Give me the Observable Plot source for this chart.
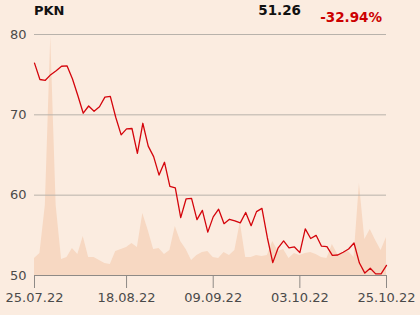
<!DOCTYPE html>
<html><head><meta charset="utf-8">
<script src="https://cdn.jsdelivr.net/npm/d3@7"></script>
<script src="https://cdn.jsdelivr.net/npm/@observablehq/plot@0.6"></script>
<style>
html,body{margin:0;padding:0;background:#fbece0;}
#chart{width:420px;height:315px;position:relative;}
svg{font-family:"DejaVu Sans",sans-serif;}
</style></head><body><div id="chart"></div>
<script>
const dates = [
 "25.07.22","26.07.22","27.07.22","28.07.22","29.07.22",
 "01.08.22","02.08.22","03.08.22","04.08.22","05.08.22",
 "08.08.22","09.08.22","10.08.22","11.08.22","12.08.22",
 "16.08.22","17.08.22","18.08.22","19.08.22",
 "22.08.22","23.08.22","24.08.22","25.08.22","26.08.22",
 "29.08.22","30.08.22","31.08.22","01.09.22","02.09.22",
 "05.09.22","06.09.22","07.09.22","08.09.22","09.09.22",
 "12.09.22","13.09.22","14.09.22","15.09.22","16.09.22",
 "19.09.22","20.09.22","21.09.22","22.09.22","23.09.22",
 "26.09.22","27.09.22","28.09.22","29.09.22","30.09.22",
 "03.10.22","04.10.22","05.10.22","06.10.22","07.10.22",
 "10.10.22","11.10.22","12.10.22","13.10.22","14.10.22",
 "17.10.22","18.10.22","19.10.22","20.10.22","21.10.22",
 "24.10.22","25.10.22"
];
const price = [
 76.44,74.4,74.3,75.0,75.5,76.05,76.1,74.5,72.4,70.2,
 71.1,70.45,71.0,72.2,72.3,69.7,67.5,68.25,68.3,65.2,
 68.95,66.1,64.8,62.5,64.1,61.1,60.9,57.2,59.55,59.6,
 56.95,58.1,55.4,57.3,58.25,56.45,57.0,56.8,56.55,57.85,
 56.2,57.95,58.35,54.7,51.6,53.45,54.3,53.45,53.55,52.85,
 55.8,54.6,55.0,53.65,53.6,52.5,52.55,52.9,53.3,54.05,
 51.55,50.3,50.9,50.2,50.2,51.26
];
const volume = [
 0.85,1.10,3.50,11.95,3.50,0.80,0.90,1.35,1.05,1.95,
 0.90,0.90,0.75,0.60,0.55,1.20,1.30,1.40,1.60,1.40,
 3.10,2.25,1.30,1.35,1.05,1.25,2.45,1.70,1.30,0.75,
 1.00,1.15,1.20,0.90,0.85,1.15,1.00,1.25,2.65,0.90,
 0.90,1.00,0.95,1.00,1.70,1.20,1.30,0.85,1.10,1.00,
 1.10,1.15,1.05,0.90,0.85,1.55,1.05,1.15,1.20,0.90,
 4.60,1.80,2.30,1.75,1.25,1.90
];
const tickDates = ["25.07.22","18.08.22","09.09.22","03.10.22","25.10.22"];
const yTicks = [50,60,70,80];
const ticker = "PKN";
const lastPrice = "51.26";
const change = "-32.94%";

const volFactor = 2.49; // volume (millions) to price-axis units (volume drawn as backdrop)
const data = dates.map((d,i)=>({i, date:d, price:price[i], vol:volume[i]}));
const tickIdx = tickDates.map(t=>dates.indexOf(t));

const chart = Plot.plot({
  width:420, height:315,
  marginLeft:34, marginRight:34, marginTop:34, marginBottom:40,
  style:{background:"transparent", fontSize:"13px", fontFamily:"DejaVu Sans, sans-serif", color:"#4a4a4a"},
  x:{type:"linear", domain:[0,dates.length-1]},
  y:{domain:[50,80]},
  marks:[
    Plot.areaY(data,{x:"i", y1:50, y2:d=>50+d.vol*volFactor, fill:"#f7d8c2", curve:"linear"}),
    Plot.gridY([60,70,80],{stroke:"#b8b2ab", strokeOpacity:1, strokeWidth:1}),
    Plot.ruleY([50],{stroke:"#8e8a86", strokeWidth:1}),
    Plot.lineY(data,{x:"i", y:"price", stroke:"#d4050c", strokeWidth:1.3}),
    Plot.axisX(tickIdx,{tickFormat:i=>dates[i], tickSize:13, tickPadding:4, stroke:"#8e8a86", fill:"#4a4a4a", fontSize:13, label:null}),
    Plot.axisY(yTicks,{tickSize:0, tickPadding:8, fill:"#4a4a4a", fontSize:13, label:null})
  ]
});
document.getElementById("chart").appendChild(chart);

const svg = d3.select(chart);
svg.append("text").attr("x",34).attr("y",15).attr("text-anchor","start").attr("font-weight","bold").attr("font-size",13).attr("fill","#111").attr("font-family","DejaVu Sans, sans-serif").text(ticker);
svg.append("text").attr("x",301).attr("y",14.5).attr("text-anchor","end").attr("font-weight","bold").attr("font-size",13.5).attr("fill","#111").attr("font-family","DejaVu Sans, sans-serif").text(lastPrice);
svg.append("text").attr("x",382).attr("y",21.5).attr("text-anchor","end").attr("font-weight","bold").attr("font-size",13.5).attr("fill","#cc0000").attr("font-family","DejaVu Sans, sans-serif").text(change);
</script>
</body></html>
